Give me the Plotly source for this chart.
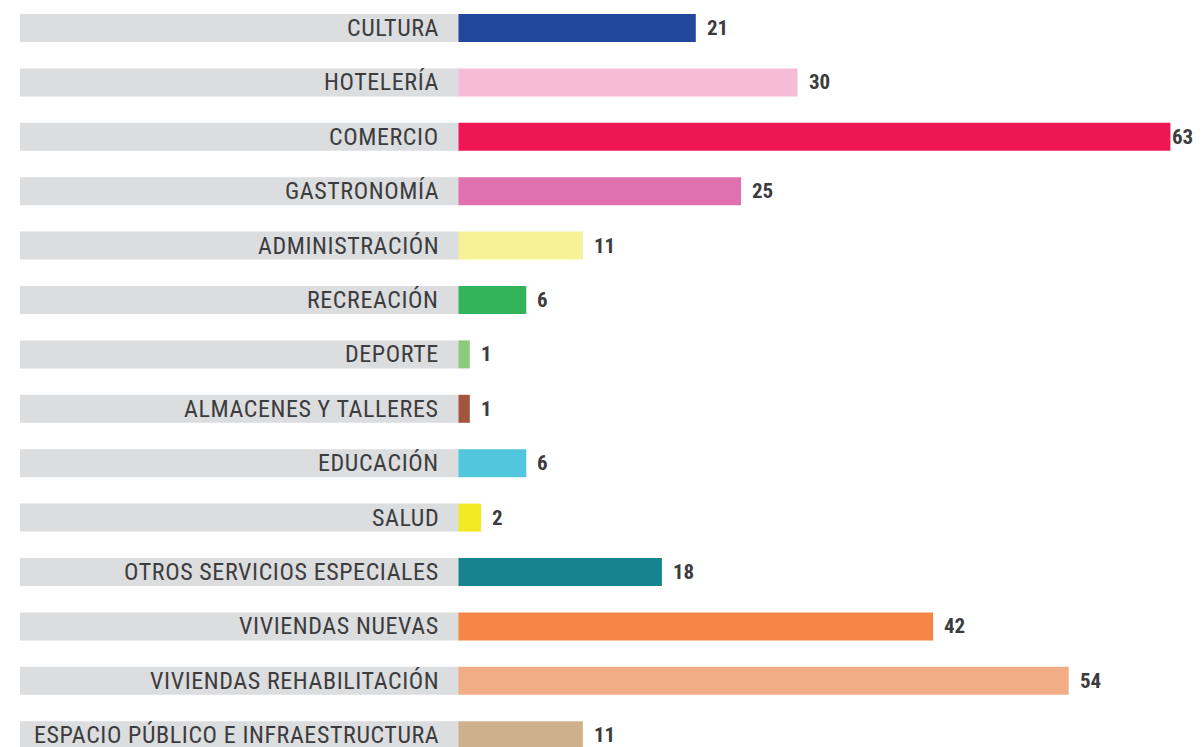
import plotly.graph_objects as go

categories = ["CULTURA", "HOTELERÍA", "COMERCIO", "GASTRONOMÍA", "ADMINISTRACIÓN",
              "RECREACIÓN", "DEPORTE", "ALMACENES Y TALLERES", "EDUCACIÓN", "SALUD",
              "OTROS SERVICIOS ESPECIALES", "VIVIENDAS NUEVAS",
              "VIVIENDAS REHABILITACIÓN", "ESPACIO PÚBLICO E INFRAESTRUCTURA"]
values = [21, 30, 63, 25, 11, 6, 1, 1, 6, 2, 18, 42, 54, 11]
colors = ["#22489c", "#f6bbd6", "#ef1654", "#e070ae", "#f7f295", "#33b45c", "#8dcb7a",
          "#a45540", "#52c6dc", "#f4ea24", "#168391", "#f58645", "#f2ac86", "#cfb08c"]

OFF = 8  # page body margin
W, H = 1204 - OFF, 747 - OFF
VISIBLE_RIGHT = 1194 - OFF  # last fully visible pixel column (figure coords)
PX_PER_UNIT = 11.3
ZERO_PX = 458.5 - OFF
GREY_LEFT_PX = 20 - OFF
LABEL_RIGHT_PX = 441 - OFF
ROW0_PX = 28 - OFF
ROW_STEP = 54.4
BAR_PX = 28
VAL_SHIFT = 9
VAL_DIGIT_PX = 10.5

x0 = -ZERO_PX / PX_PER_UNIT
x1 = (W - ZERO_PX) / PX_PER_UNIT
n = len(categories)
y_idx = list(range(n))
y_top = -ROW0_PX / ROW_STEP
y_bot = y_top + H / ROW_STEP
bw = BAR_PX / ROW_STEP

grey_base = (GREY_LEFT_PX - ZERO_PX) / PX_PER_UNIT
label_x = (LABEL_RIGHT_PX - ZERO_PX) / PX_PER_UNIT

FONT = "Roboto Condensed, Liberation Sans Narrow, DejaVu Sans Condensed, sans-serif"
TXT = "#3c3c3e"

def track(s):
    return '<span style="letter-spacing:0.6px">' + s + '</span>'

def value_shift(v):
    end_px = ZERO_PX + v * PX_PER_UNIT + VAL_SHIFT + 3 + VAL_DIGIT_PX * len(str(v))
    over = end_px - VISIBLE_RIGHT
    return VAL_SHIFT - max(0, over)

fig = go.Figure()
fig.add_trace(go.Bar(
    y=y_idx, x=[-grey_base + 0.1] * n, base=[grey_base] * n, orientation="h",
    marker=dict(color="#dcdddf", line=dict(width=0)), width=bw, hoverinfo="skip",
))
fig.add_trace(go.Bar(
    y=y_idx, x=values, orientation="h",
    marker=dict(color=colors, line=dict(width=0)), width=bw,
))
for i, (c, v) in enumerate(zip(categories, values)):
    fig.add_annotation(x=label_x, y=i, text=track(c), showarrow=False, xanchor="right",
                       yanchor="middle", font=dict(family=FONT, size=24, color=TXT))
    fig.add_annotation(x=v, y=i, text=str(v), showarrow=False, xanchor="left",
                       xshift=value_shift(v), yanchor="middle",
                       font=dict(family=FONT, size=21, color=TXT, weight="bold"))

fig.update_layout(
    width=W, height=H, margin=dict(l=0, r=0, t=0, b=0),
    paper_bgcolor="white", plot_bgcolor="white", barmode="overlay", showlegend=False,
    xaxis=dict(range=[x0, x1], visible=False, fixedrange=True),
    yaxis=dict(range=[y_bot, y_top], visible=False, fixedrange=True),
)
fig.write_html("out.html")
